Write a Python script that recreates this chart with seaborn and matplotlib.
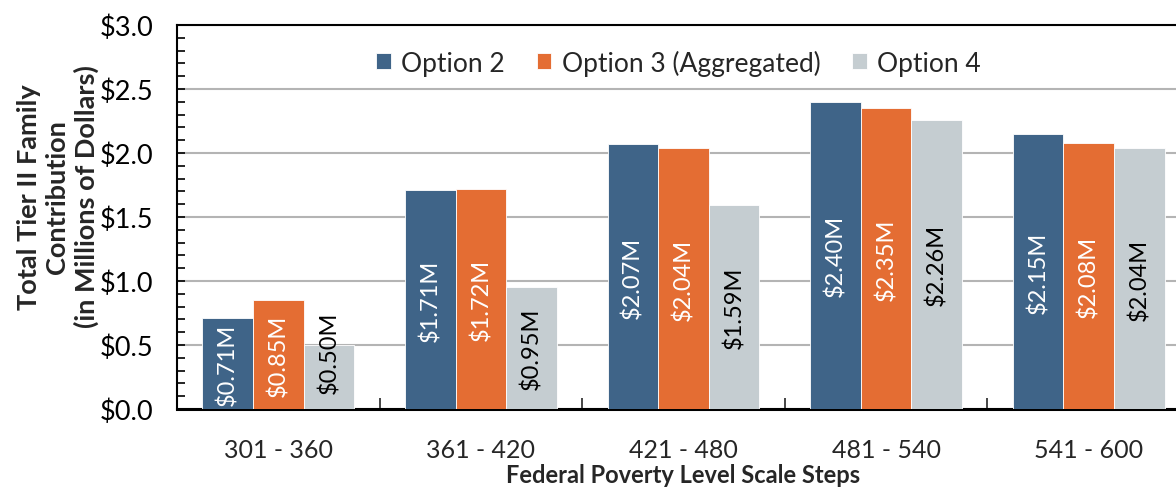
import pandas as pd
import numpy as np
import matplotlib
matplotlib.use('Agg')
import matplotlib.pyplot as plt
import seaborn as sns
from matplotlib.ticker import MultipleLocator, FixedLocator, FuncFormatter

# date
categories = ["301 - 360", "361 - 420", "421 - 480", "481 - 540", "541 - 600"]
series = ["Option 2", "Option 3 (Aggregated)", "Option 4"]
option2 = [0.71, 1.71, 2.07, 2.40, 2.15]
option3 = [0.85, 1.72, 2.04, 2.35, 2.08]
option4 = [0.50, 0.95, 1.59, 2.26, 2.04]
colors = ["#3F6488", "#E46D33", "#C5CDD1"]
label_colors = ["white", "white", "black"]

df = pd.DataFrame({
    "step": categories * 3,
    "option": [s for s in series for _ in categories],
    "value": option2 + option3 + option4,
})

sns.set_style("white")
plt.rcParams['font.family'] = ['Lato', 'DejaVu Sans']

fig = plt.figure(figsize=(11.76, 4.89), dpi=100)
ax = fig.add_axes([177 / 1176, 79 / 489, 1013 / 1176, 384 / 489])

sns.barplot(data=df, x="step", y="value", hue="option", palette=colors,
            width=0.75, saturation=1, edgecolor="white", linewidth=0.6,
            ax=ax, zorder=3)

for cont, lc in zip(ax.containers, label_colors):
    anns = ax.bar_label(cont, labels=[f"${v:.2f}M" for v in cont.datavalues],
                        label_type="center", rotation=90, color=lc, fontsize=17)
    # etichetele prea lungi pentru bara sunt ridicate (ca in Excel)
    # xy e relativ la bara (0..1) pentru label_type="center"
    for ann, v in zip(anns, cont.datavalues):
        if v < 0.6:
            ann.xy = (0.5, 0.9)

ax.set_xlim(-0.5, 4.5)
ax.set_ylim(0, 3.0)
ax.yaxis.set_major_locator(MultipleLocator(0.5))
ax.yaxis.set_minor_locator(MultipleLocator(0.1))
ax.yaxis.set_major_formatter(FuncFormatter(lambda v, p: f"${v:.1f}"))
ax.tick_params(axis="y", which="both", direction="in", length=6, width=1.2,
               left=True, labelsize=19.5, pad=17, colors="black")
ax.xaxis.set_minor_locator(FixedLocator(np.arange(0.5, 4.5, 1)))
ax.tick_params(axis="x", which="major", length=0, labelsize=18, pad=21)
ax.tick_params(axis="x", which="minor", direction="in", length=8, width=1.2,
               bottom=True)

ax.grid(axis="y", which="major", color="#B4B4B4", linewidth=1.5, zorder=0)
ax.set_axisbelow(True)

for side in ["top", "left", "bottom"]:
    ax.spines[side].set_visible(True)
    ax.spines[side].set_color("black")
ax.spines["bottom"].set_linewidth(2.2)
ax.spines["left"].set_linewidth(1.5)
ax.spines["top"].set_linewidth(1.5)
ax.spines["right"].set_visible(False)

ax.set_xlabel("Federal Poverty Level Scale Steps", fontsize=17,
              fontweight="bold", labelpad=1.5)
ax.set_ylabel("Total Tier II Family\nContribution\n(in Millions of Dollars)",
              fontsize=19.5, fontweight="bold", linespacing=1.2)
ax.yaxis.set_label_coords(-0.077, 0.555)

ax.legend(loc="upper center", bbox_to_anchor=(0.5 - 5 / 1013, 0.998), ncol=3,
          frameon=False, fontsize=19, handlelength=0.55, handleheight=0.55,
          handletextpad=0.4, columnspacing=1.2, title=None)

plt.savefig("out.png", dpi=100)
